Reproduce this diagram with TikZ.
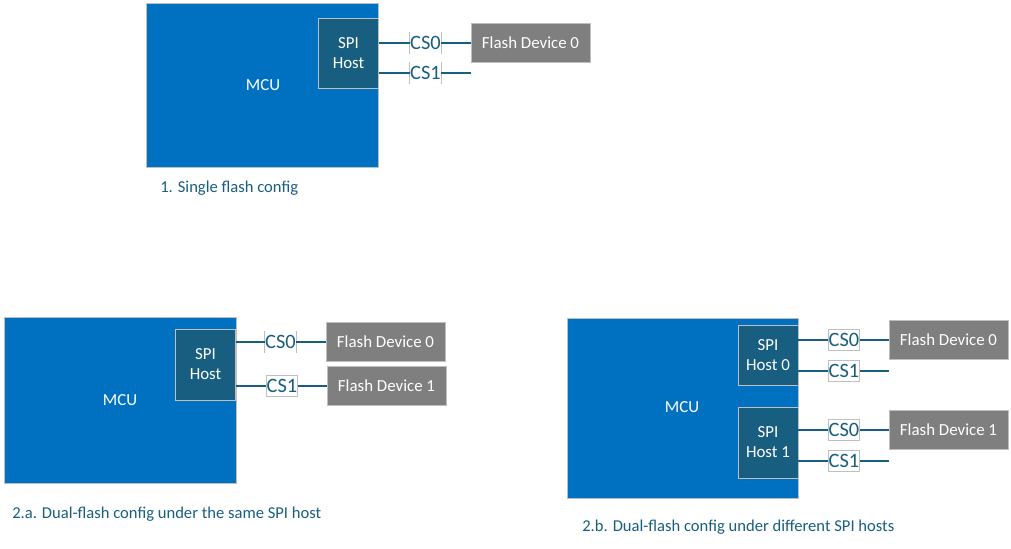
\documentclass[tikz,border=0pt]{standalone}
\usepackage{fontspec}
\setmainfont{Carlito}
\definecolor{mcublue}{RGB}{0,112,192}
\definecolor{hostblue}{RGB}{24,94,128}
\definecolor{flashgray}{RGB}{127,127,127}
\definecolor{edgegray}{RGB}{191,191,191}
\newdimen\pxunit
\pxunit=0.025cm
\tikzset{
	mcu/.style={draw=edgegray, fill=mcublue, text=white, inner sep=0pt},
	mcutext/.style={text=white, font=\fontsize{12}{14}\selectfont},
	host/.style={draw=edgegray, fill=hostblue, text=white, align=center, inner sep=0pt, minimum width=60\pxunit, font=\fontsize{12}{14.2}\selectfont},
	flash/.style={draw=edgegray, fill=flashgray, text=white, inner sep=0pt, minimum width=119\pxunit, minimum height=39\pxunit, font=\fontsize{12}{14}\selectfont},
	cslabel/.style={text=hostblue, inner sep=0pt, minimum width=31\pxunit, minimum height=21\pxunit, font=\fontsize{14.5}{16}\selectfont},
	csbox/.style={cslabel, draw=edgegray, fill=white},
	csside/.style={draw=edgegray, line width=0.5pt},
	wire/.style={draw=hostblue, line width=1.3pt},
	caption/.style={text=hostblue, anchor=west, inner sep=0pt, font=\fontsize{11.8}{14}\selectfont}
}
\begin{document}
\begin{tikzpicture}[x=0.025cm, y=-0.025cm]
	\useasboundingbox (0,0) rectangle (1011,548);
	% 1. single flash
	\node[mcu, minimum width=232\pxunit, minimum height=164\pxunit] (mcuA) at (262.5,85) {};
	\node[mcutext] (mcuAtxt) at (263,85) {MCU};
	\node[host, minimum height=70\pxunit] (hostA) at (348.5,53) {SPI\\Host};
	\node[cslabel] (csA0) at (425.5,43) {CS0};
	\node[cslabel] (csA1) at (425.5,73) {CS1};
	\node[flash] (flashA0) at (530.5,43) {Flash Device 0};
	\coordinate (endA1) at (471,73);
	\draw[csside] (csA0.north west) -- (csA0.south west) (csA0.north east) -- (csA0.south east);
	\draw[csside] (csA1.north west) -- (csA1.south west) (csA1.north east) -- (csA1.south east);
	\draw[wire] (hostA.east |- csA0) -- (csA0.west) (csA0.east) -- (flashA0.west);
	\draw[wire] (hostA.east |- csA1) -- (csA1.west) (csA1.east) -- (endA1);
	\node[caption] (capA) at (160,188) {1. Single flash config};
	% 2.a. dual flash, same host
	\node[mcu, minimum width=232\pxunit, minimum height=166\pxunit] (mcuB) at (120,400.5) {};
	\node[mcutext] (mcuBtxt) at (120,400) {MCU};
	\node[host, minimum height=71\pxunit] (hostB) at (205.5,364.5) {SPI\\Host};
	\node[cslabel] (csB0) at (280.5,342) {CS0};
	\node[csbox] (csB1) at (282,386) {CS1};
	\node[flash] (flashB0) at (385.5,342) {Flash Device 0};
	\node[flash] (flashB1) at (386.5,386) {Flash Device 1};
	\draw[csside] (csB0.north west) -- (csB0.south west) (csB0.north east) -- (csB0.south east);
	\draw[wire] (hostB.east |- csB0) -- (csB0.west) (csB0.east) -- (flashB0.west);
	\draw[wire] (hostB.east |- csB1) -- (csB1.west) (csB1.east) -- (flashB1.west);
	\node[caption] (capB) at (12,514) {2.a. Dual-flash config under the same SPI host};
	% 2.b. dual flash, different hosts
	\node[mcu, minimum width=231\pxunit, minimum height=180\pxunit] (mcuC) at (682.5,408) {};
	\node[mcutext] (mcuCtxt) at (682,407) {MCU};
	\node[host, minimum height=60\pxunit] (hostC0) at (768,355.5) {SPI\\Host 0};
	\node[host, minimum height=71\pxunit] (hostC1) at (768,442.5) {SPI\\Host 1};
	\node[csbox] (csC0) at (844,340) {CS0};
	\node[csbox] (csC1) at (844,371) {CS1};
	\node[csbox] (csC2) at (844,430) {CS0};
	\node[csbox] (csC3) at (844,461) {CS1};
	\node[flash] (flashC0) at (948.5,340) {Flash Device 0};
	\node[flash] (flashC1) at (948.5,430) {Flash Device 1};
	\coordinate (endC1) at (889,371);
	\coordinate (endC3) at (889,461);
	\draw[wire] (hostC0.east |- csC0) -- (csC0.west) (csC0.east) -- (flashC0.west);
	\draw[wire] (hostC0.east |- csC1) -- (csC1.west) (csC1.east) -- (endC1);
	\draw[wire] (hostC1.east |- csC2) -- (csC2.west) (csC2.east) -- (flashC1.west);
	\draw[wire] (hostC1.east |- csC3) -- (csC3.west) (csC3.east) -- (endC3);
	\node[caption] (capC) at (582,527) {2.b. Dual-flash config under different SPI hosts};
\end{tikzpicture}
\end{document}
